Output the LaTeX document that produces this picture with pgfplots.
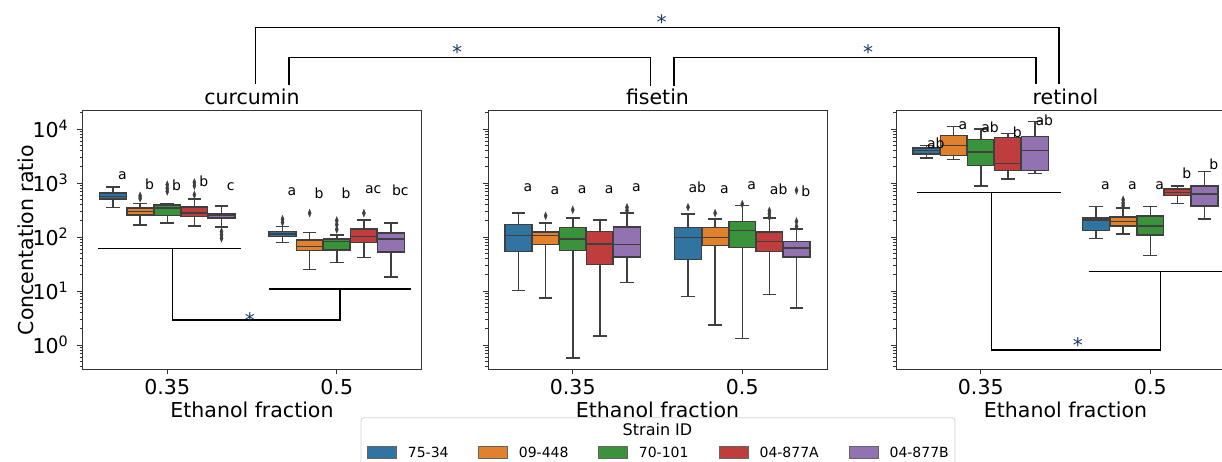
\documentclass[border=0pt]{standalone}
\usepackage{fontspec}
\setmainfont{DejaVu Sans}
\usepackage{pgfplots}
\pgfplotsset{compat=1.18}

\definecolor{cB}{HTML}{3274A1}
\definecolor{cO}{HTML}{E1812C}
\definecolor{cG}{HTML}{3A923A}
\definecolor{cR}{HTML}{C03D3E}
\definecolor{cP}{HTML}{9372B2}
\definecolor{edgec}{HTML}{3F3F3F}
\definecolor{starc}{HTML}{1A3A6B}
\definecolor{framec}{HTML}{333333}

% box: colour, position, lower whisker, lower quartile, median, upper quartile, upper whisker
\newcommand{\bx}[7]{%
 \pgfmathsetmacro{\bxL}{#2-0.0785}\pgfmathsetmacro{\bxR}{#2+0.0785}%
 \pgfmathsetmacro{\bxCL}{#2-0.04}\pgfmathsetmacro{\bxCR}{#2+0.04}%
 \edef\bxtmp{\noexpand\addplot[draw=edgec, line width=1.5pt, fill=#1] coordinates {(\bxL,#4) (\bxR,#4) (\bxR,#6) (\bxL,#6)} -- cycle;%
 \noexpand\addplot[draw=edgec, line width=1.5pt, unbounded coords=jump] coordinates {(#2,#4) (#2,#3) (#2,nan) (\bxCL,#3) (\bxCR,#3) (\bxCL,nan) (#2,#6) (#2,#7) (#2,nan) (\bxCL,#7) (\bxCR,#7) (\bxCL,nan) (\bxL,#5) (\bxR,#5)};}%
 \bxtmp}
\newcommand{\ol}[1]{\addplot[only marks, mark=diamond*, mark size=2.8pt, mark options={fill=edgec, draw=edgec, line width=0.4pt, yscale=1.35, xscale=0.75}] coordinates {#1};}
\newcommand{\lt}[3]{\node[font=\fontsize{14}{16}\selectfont, inner sep=0pt, anchor=center] at (axis cs:#1,#2) {#3};}

\pgfplotsset{
  mypanel/.style={
    scale only axis, width=339pt, height=258pt, anchor=south west,
    ymin=0.36, ymax=21540, xmin=-0.5, xmax=1.5,
    xtick={0,1}, xticklabels={0.35,0.5},
    ytick={1,10,100,1000,10000},
    minor ytick={0.4,0.5,0.6,0.7,0.8,0.9,2,3,4,5,6,7,8,9,20,30,40,50,60,70,80,90,200,300,400,500,600,700,800,900,2000,3000,4000,5000,6000,7000,8000,9000,20000},
    tick pos=left, tick align=outside,
    major tick length=5pt, minor tick length=3pt,
    major tick style={draw=framec, line width=0.9pt},
    minor tick style={draw=framec, line width=0.6pt},
    axis line style={draw=framec, line width=1pt},
    tick label style={font=\fontsize{20.5}{24}\selectfont},
    xticklabel style={anchor=base, yshift=-20pt},
    yticklabel style={anchor=east, inner sep=0pt, xshift=-9pt},
    xlabel={Ethanol fraction},
    xlabel style={font=\fontsize{20.5}{24}\selectfont, at={(axis description cs:0.5,0)}, anchor=base, yshift=-48pt},
    title style={font=\fontsize{20.5}{24}\selectfont, at={(axis description cs:0.5,1)}, anchor=base, yshift=0.5pt},
  }
}

\begin{document}
\begin{tikzpicture}

% ---------------- curcumin ----------------
\begin{axis}[ymode=log, mypanel, at={(82.5pt,92pt)}, title={curcumin},
  yticklabels={10\textsuperscript{0},10\textsuperscript{1},10\textsuperscript{2},10\textsuperscript{3},10\textsuperscript{4}},
  ylabel={Concentation ratio},
  ylabel style={font=\fontsize{20.5}{24}\selectfont, at={(axis description cs:-0.146,0.5)}, anchor=base}]
% 0.35
\bx{cB}{-0.32}{352}{503}{564}{659}{840}
\bx{cO}{-0.16}{166}{258}{297}{347}{418} \ol{(-0.16,520) (-0.16,580)}
\bx{cG}{0}{181}{250}{343}{395}{412} \ol{(0,700) (0,800) (0,930)}
\bx{cR}{0.16}{161}{240}{277}{363}{503} \ol{(0.16,606) (0.16,889) (0.16,1025)}
\bx{cP}{0.32}{152}{223}{251}{269}{378} \ol{(0.32,95) (0.32,110) (0.32,126)}
% 0.5
\bx{cB}{0.68}{80}{102}{114}{126}{157} \ol{(0.68,186) (0.68,214)}
\bx{cO}{0.84}{25}{56}{67}{89}{121} \ol{(0.84,277)}
\bx{cG}{1}{34}{58}{83}{92}{110} \ol{(1,138) (1,170) (1,202)}
\bx{cR}{1.16}{42}{79}{102}{140}{208} \ol{(1.16,277)}
\bx{cP}{1.32}{18}{53}{92}{118}{181}
\lt{-0.265}{1362}{a}\lt{-0.105}{955}{b}\lt{0.055}{915}{b}\lt{0.215}{1054}{b}\lt{0.375}{840}{c}
\lt{0.735}{679}{a}\lt{0.895}{650}{b}\lt{1.055}{650}{b}\lt{1.215}{750}{ac}\lt{1.375}{730}{bc}
\draw[black, line width=1.4pt] (axis cs:-0.407,62) -- (axis cs:0.435,62);
\draw[black, line width=1.4pt] (axis cs:0.03,62) -- (axis cs:0.03,2.9) -- (axis cs:1.02,2.9) -- (axis cs:1.02,10.9);
\draw[black, line width=1.4pt] (axis cs:0.6,10.9) -- (axis cs:1.439,10.9);
\node[anchor=base, inner sep=0pt, font=\fontsize{20}{24}\selectfont, text=starc] at (axis cs:0.488,2.15) {*};
\end{axis}

% ---------------- fisetin ----------------
\begin{axis}[ymode=log, mypanel, at={(488pt,92pt)}, title={fisetin}, yticklabels={}]
\bx{cB}{-0.32}{10.2}{54}{107}{171}{281}
\bx{cO}{-0.16}{7.5}{72}{107}{125}{181} \ol{(-0.16,247)}
\bx{cG}{0}{0.58}{56}{92}{150}{227} \ol{(0,319)}
\bx{cR}{0.16}{1.47}{31}{75}{126}{208}
\bx{cP}{0.32}{14.5}{43}{72}{152}{281} \ol{(0.32,310) (0.32,355)}
\bx{cB}{0.68}{7.9}{38}{98}{150}{269} \ol{(0.68,357)}
\bx{cO}{0.84}{2.35}{69}{98}{150}{217} \ol{(0.84,277)}
\bx{cG}{1}{1.33}{64}{132}{194}{384} \ol{(1,406)}
\bx{cR}{1.16}{8.7}{54}{83}{123}{223} \ol{(1.16,234) (1.16,269) (1.16,306)}
\bx{cP}{1.32}{4.8}{43}{62}{83}{140} \ol{(1.32,157) (1.32,194) (1.32,728)}
\lt{-0.265}{805}{a}\lt{-0.105}{728}{a}\lt{0.055}{750}{a}\lt{0.215}{750}{a}\lt{0.375}{805}{a}
\lt{0.735}{840}{ab}\lt{0.895}{750}{a}\lt{1.055}{889}{a}\lt{1.215}{771}{ab}\lt{1.375}{698}{b}
\end{axis}

% ---------------- retinol ----------------
\begin{axis}[ymode=log, mypanel, at={(896pt,92pt)}, title={retinol}, yticklabels={}]
\bx{cB}{-0.32}{2897}{3438}{3966}{4445}{4910}
\bx{cO}{-0.16}{2700}{3200}{4980}{7520}{11200}
\bx{cG}{0}{889}{2118}{3743}{6340}{10000}
\bx{cR}{0.16}{1199}{1710}{2275}{7000}{8190}
\bx{cP}{0.32}{1485}{1710}{4020}{7310}{13870}
\bx{cB}{0.68}{94}{132}{208}{224}{368}
\bx{cO}{0.84}{114}{161}{194}{233}{343} \ol{(0.84,380) (0.84,427) (0.84,489)}
\bx{cG}{1}{45}{110}{161}{247}{368}
\bx{cR}{1.16}{418}{589}{669}{771}{889}
\bx{cP}{1.32}{217}{378}{623}{889}{1617}
\lt{-0.265}{5500}{ab}\lt{-0.105}{11530}{a}\lt{0.055}{10740}{ab}\lt{0.215}{8670}{b}\lt{0.375}{14480}{ab}
\lt{0.735}{889}{a}\lt{0.895}{889}{a}\lt{1.055}{889}{a}\lt{1.215}{1485}{b}\lt{1.375}{2180}{b}
\draw[black, line width=1.4pt] (axis cs:-0.374,669) -- (axis cs:0.474,669);
\draw[black, line width=1.4pt] (axis cs:0.065,669) -- (axis cs:0.065,0.807) -- (axis cs:1.059,0.807) -- (axis cs:1.059,22.9);
\draw[black, line width=1.4pt] (axis cs:0.638,22.9) -- (axis cs:1.6,22.9);
\node[anchor=base, inner sep=0pt, font=\fontsize{20}{24}\selectfont, text=starc] at (axis cs:0.573,0.736) {*};
\end{axis}

% ---------------- top brackets ----------------
\draw[black, line width=1.3pt] (255.7pt,377pt) -- (255.7pt,433.3pt) -- (1059pt,433.3pt) -- (1059pt,377pt);
\draw[black, line width=1.3pt] (289pt,376pt) -- (289pt,403.7pt) -- (650.7pt,403.7pt) -- (650.7pt,375.3pt);
\draw[black, line width=1.3pt] (674pt,375.3pt) -- (674pt,403.7pt) -- (1036pt,403.7pt) -- (1036pt,377pt);
\node[anchor=base, inner sep=0pt, font=\fontsize{20}{24}\selectfont, text=starc] at (661.7pt,431.2pt) {*};
\node[anchor=base, inner sep=0pt, font=\fontsize{20}{24}\selectfont, text=starc] at (457pt,401.5pt) {*};
\node[anchor=base, inner sep=0pt, font=\fontsize{20}{24}\selectfont, text=starc] at (868pt,401.5pt) {*};

% ---------------- legend ----------------
\draw[black!18, fill=white, line width=0.8pt, rounded corners=3pt] (361pt,-8pt) rectangle (955pt,43.3pt);
\node[font=\fontsize{16}{19}\selectfont, inner sep=0pt, anchor=center] at (657.5pt,31pt) {Strain ID};
\foreach \px/\col/\lab in {367.3/cB/75-34, 478.3/cO/09-448, 598.3/cG/70-101, 719/cR/04-877A, 849/cP/04-877B}{
  \pgfmathsetmacro{\pxr}{\px+29.3}
  \pgfmathsetmacro{\pxt}{\px+40.4}
  \draw[fill=\col, draw=edgec!80, line width=0.5pt] (\px pt,2.7pt) rectangle (\pxr pt,14.3pt);
  \node[font=\fontsize{14}{17}\selectfont, inner sep=0pt, anchor=west] at (\pxt pt,8.7pt) {\lab};
}

\pgfresetboundingbox
\path[use as bounding box] (0pt,0pt) rectangle (1222pt,461pt);
\end{tikzpicture}
\end{document}
